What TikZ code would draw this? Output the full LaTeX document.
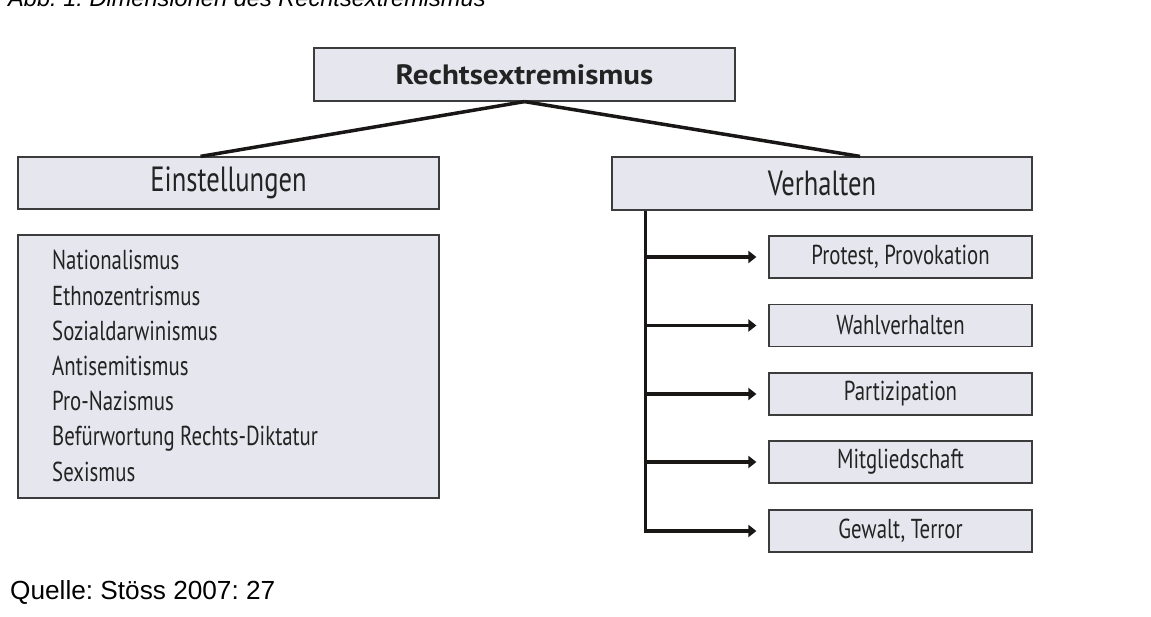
\documentclass[tikz,border=0pt]{standalone}
\usepackage{fontspec}
\setmainfont{PT Sans}[FakeStretch=0.76]
\newfontfamily\boldtitlefont{PT Sans}[FakeStretch=1.11]
\newfontfamily\arialfont{Liberation Sans}
\usetikzlibrary{arrows.meta,calc}
\definecolor{boxfill}{RGB}{230,230,238}
\definecolor{boxline}{RGB}{60,60,60}
\definecolor{conn}{RGB}{25,22,22}
\definecolor{txt}{RGB}{35,35,35}
\tikzset{
  pbox/.style={draw=boxline, fill=boxfill, line width=1.2pt, inner sep=0pt, text=txt},
  bigtxt/.style={font=\fontsize{35}{40}\selectfont},
  smalltxt/.style={font=\fontsize{27.4}{32}\selectfont},
  conline/.style={draw=conn, line width=3.5pt},
  arr/.style={draw=conn, line width=3.8pt, -{Triangle[length=8pt,width=12pt]}},
}
\begin{document}
\frenchspacing
\begin{tikzpicture}[x=1pt,y=-1pt]
\useasboundingbox (0,0) rectangle (1151,616);
\clip (0,0) rectangle (1151,616);
% caption (cut off at the top)
\node[anchor=base west, inner sep=0pt, font=\arialfont\itshape\fontsize{23.6}{28}\selectfont] (cap) at (8,6) {Abb. 1: Dimensionen des Rechtsextremismus};
% main boxes
\node[pbox, minimum width=421pt, minimum height=53pt, font=\boldtitlefont\bfseries\fontsize{28}{34}\selectfont] (top) at (524.5,74.5) {Rechtsextremismus};
\node[pbox, bigtxt, minimum width=421pt, minimum height=52pt] (einst) at (228.5,183) {Einstellungen};
\node[pbox, bigtxt, minimum width=420pt, minimum height=53pt] (verh) at (822,183.5) {Verhalten};
% list box
\node[pbox, minimum width=421pt, minimum height=263pt] (list) at (228.5,366.5) {};
\node[anchor=base west, inner sep=0pt, align=left, text=txt, font=\fontsize{27.4}{35.2}\selectfont] (listtext) at (52,481) {Nationalismus\\Ethnozentrismus\\Sozialdarwinismus\\Antisemitismus\\Pro-Nazismus\\Befürwortung Rechts-Diktatur\\Sexismus};
% behaviour boxes
\node[pbox, smalltxt, minimum width=263pt, minimum height=42pt] (b1) at (900.5,257) {Protest, Provokation};
\node[pbox, smalltxt, minimum width=263pt, minimum height=42pt] (b2) at (900.5,325.5) {Wahlverhalten};
\node[pbox, smalltxt, minimum width=263pt, minimum height=42pt] (b3) at (900.5,394) {Partizipation};
\node[pbox, smalltxt, minimum width=263pt, minimum height=42pt] (b4) at (900.5,462) {Mitgliedschaft};
\node[pbox, smalltxt, minimum width=263pt, minimum height=42pt] (b5) at (900.5,531) {Gewalt, Terror};
% connectors from the top box
\draw[conline] (top.south) -- ([xshift=-28pt]einst.north);
\draw[conline] (top.south) -- ([xshift=38pt]verh.north);
% trunk and arrows
\coordinate (ts) at ([xshift=34pt]verh.south west);
\draw[arr] (ts) |- ([xshift=-12pt]b5.west);
\draw[arr] (ts |- b1.west) -- ([xshift=-12pt]b1.west);
\draw[arr] (ts |- b2.west) -- ([xshift=-12pt]b2.west);
\draw[arr] (ts |- b3.west) -- ([xshift=-12pt]b3.west);
\draw[arr] (ts |- b4.west) -- ([xshift=-12pt]b4.west);
% source
\node[anchor=base west, inner sep=0pt, font=\arialfont\fontsize{26.2}{30}\selectfont] (src) at (10,599) {Quelle: Stöss 2007: 27};
\end{tikzpicture}
\end{document}
